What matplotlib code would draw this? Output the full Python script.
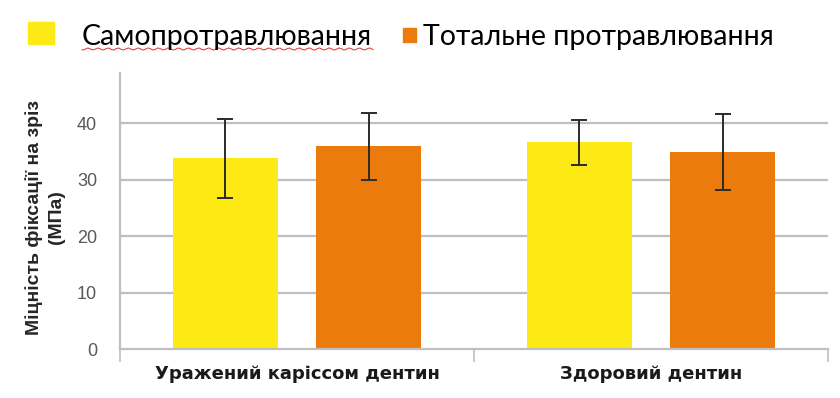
import numpy as np
import matplotlib
matplotlib.use("Agg")
import matplotlib.pyplot as plt
from matplotlib.patches import Rectangle

# data
categories = ["Уражений каріссом дентин", "Здоровий дентин"]
series_names = ["Самопротравлювання", "Тотальне протравлювання"]
self_etch = [33.8, 36.6]
self_etch_err = [7.0, 4.0]
total_etch = [35.9, 34.9]
total_etch_err = [5.9, 6.7]
y_ticks = [0, 10, 20, 30, 40]

yellow = "#fdea14"
orange = "#ea7b0c"
grid_col = "#bfbfbf"

plt.rcParams["font.family"] = ["Liberation Sans", "DejaVu Sans"]

W, H = 840, 398
fig = plt.figure(figsize=(W / 100, H / 100), dpi=100)
ax = fig.add_axes([120 / W, 1 - 349 / H, 708 / W, 276 / H])

x = np.arange(len(categories))
width = 0.297
off = 0.203

ax.bar(x - off, self_etch, width, color=yellow, zorder=2)
ax.bar(x + off, total_etch, width, color=orange, zorder=2)
err_kw = dict(fmt="none", ecolor="#2b2b2b", elinewidth=1.4, capsize=5.5,
              capthick=1.4, zorder=3)
ax.errorbar(x - off, self_etch, yerr=self_etch_err, **err_kw)
ax.errorbar(x + off, total_etch, yerr=total_etch_err, **err_kw)

ax.set_xlim(-0.5, len(categories) - 0.5)
ax.set_ylim(0, 48.9)
ax.set_yticks(y_ticks)
ax.tick_params(axis="y", length=0, pad=16.5, labelsize=13, labelcolor="#595959")
for t in y_ticks[1:]:
    ax.axhline(t, color=grid_col, lw=1.6, zorder=1)

# category separators below the axis (Excel style)
ax.set_xticks(np.arange(len(categories) + 1) - 0.5)
ax.set_xticklabels([])
ax.tick_params(axis="x", length=9, width=1.2, color=grid_col, direction="out")
for xi, lab in zip(x, categories):
    ax.text(xi, -25 / 276, lab, transform=ax.get_xaxis_transform(), ha="center",
            va="center", fontsize=13, fontweight="bold", color="#1a1a1a",
            family=["DejaVu Sans"])

for s in ["top", "right"]:
    ax.spines[s].set_visible(False)
for s in ["left", "bottom"]:
    ax.spines[s].set_color(grid_col)
    ax.spines[s].set_linewidth(1.6)

ax.set_ylabel("Міцність фіксації на зріз\n(МПа)", fontsize=14,
              fontweight="bold", color="#262626", linespacing=1.4)
ax.yaxis.set_label_coords(-0.077, 0.478)

# legend drawn at the top like the reference
fig.patches.append(Rectangle((28 / W, 1 - 44 / H), 26 / W, 22 / H,
                             transform=fig.transFigure, color=yellow))
fig.text(82 / W, 1 - 45 / H, series_names[0], fontsize=20.5,
         family=["Lato", "DejaVu Sans"], va="baseline", ha="left")
fig.patches.append(Rectangle((403 / W, 1 - 42 / H), 13 / W, 14 / H,
                             transform=fig.transFigure, color=orange))
fig.text(423 / W, 1 - 45 / H, series_names[1], fontsize=20.5,
         family=["Lato", "DejaVu Sans"], va="baseline", ha="left")

# red spell-check squiggle under the first legend entry
sx = np.linspace(82, 373, 120)
sy = 49 + 1.1 * np.sin(sx / 1.6)
fig.add_artist(plt.Line2D(sx / W, 1 - sy / H, transform=fig.transFigure,
                          color="#e03030", lw=0.7))

fig.savefig("out.png", dpi=100)
